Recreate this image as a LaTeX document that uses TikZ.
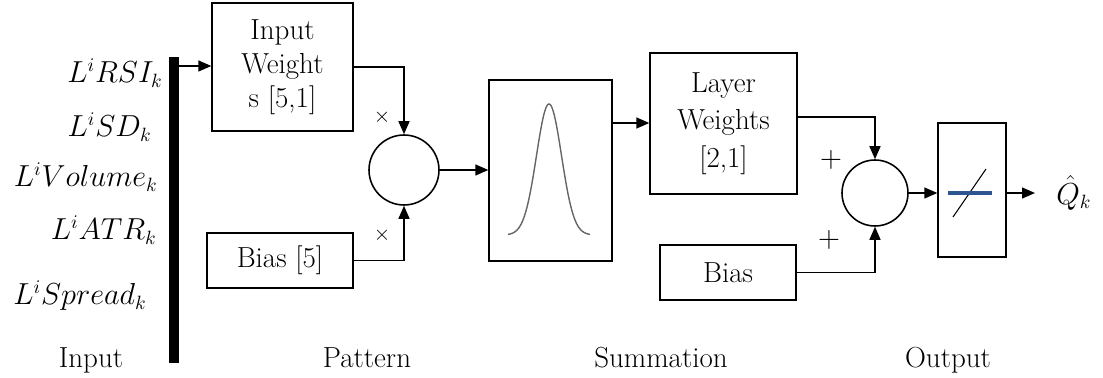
\documentclass[tikz,border=0pt]{standalone}
\usetikzlibrary{arrows.meta,calc}
\definecolor{lineblue}{RGB}{45,85,145}
\begin{document}
\begin{tikzpicture}[x=0.02cm,y=-0.02cm,
  every node/.style={font=\fontsize{16.5}{20}\selectfont},
  blk/.style={draw,line width=0.8pt,align=center,inner sep=0pt},
  sumnode/.style={draw,circle,line width=0.9pt,inner sep=0pt},
  arr/.style={line width=0.8pt,-{Triangle[length=0.26cm,width=0.22cm]}},
  lbl/.style={anchor=base east,inner sep=0pt,font=\fontsize{16}{20}\selectfont},
  captxt/.style={anchor=base,inner sep=0pt}]
\useasboundingbox (0,0) rectangle (1103,378);
% input bar
\node[fill=black,minimum width=0.2cm,minimum height=6.12cm,inner sep=0pt] (bar) at (174,210) {};
% input labels
\node[lbl] (l1) at (163,83) {$L^iRSI_k$};
\node[lbl] (l2) at (152,137) {$L^iSD_k$};
\node[lbl] (l3) at (158,187) {$L^iVolume_k$};
\node[lbl] (l4) at (157,240) {$L^iATR_k$};
\node[lbl] (l5) at (147,305) {$L^iSpread_k$};
% boxes
\node[blk,minimum width=2.82cm,minimum height=2.56cm,font=\fontsize{16.5}{19.5}\selectfont] (iw) at (282.5,67) {Input\\Weight\\s [5,1]};
\node[blk,minimum width=2.92cm,minimum height=1.1cm] (b5) at (280,260.5) {Bias [5]};
\node[sumnode,minimum size=1.4cm] (c1) at (404,170) {};
\node[blk,minimum width=2.46cm,minimum height=3.62cm] (g) at (550.5,170.5) {};
\node[blk,minimum width=2.94cm,minimum height=2.82cm,font=\fontsize{16.5}{21.5}\selectfont] (lw) at (723.5,123.5) {Layer\\Weights\\{}[2,1]};
\node[blk,minimum width=2.72cm,minimum height=1.1cm] (bias) at (728,272.5) {Bias};
\node[sumnode,minimum size=1.32cm] (c2) at (875,193) {};
\node[blk,minimum width=1.36cm,minimum height=2.68cm] (out) at (972,190) {};
\node[anchor=west,inner sep=0pt,inner xsep=0.42cm,font=\fontsize{16}{20}\selectfont] (q) at (1035,193) {$\hat{Q}_k$};
% gaussian curve
\draw[gray!80!black,line width=0.8pt] plot[domain=-41:41,samples=100,smooth] ({549+\x},{235-131*exp(-((\x/12.5)^2)/2)});
% linear transfer symbol
\draw[line width=0.6pt] (953,217) -- (986,169);
\draw[lineblue,line width=1.8pt] (948,193) -- (992,193);
% sign marks
\node[inner sep=0pt,font=\fontsize{12}{12}\selectfont] (m1) at (382,117) {$\times$};
\node[inner sep=0pt,font=\fontsize{12}{12}\selectfont] (m2) at (382,235) {$\times$};
\node[inner sep=0pt,font=\fontsize{17}{17}\selectfont] (p1) at (831,160) {$+$};
\node[inner sep=0pt,font=\fontsize{17}{17}\selectfont] (p2) at (829,240) {$+$};
% connectors
\draw[arr] (bar.east |- 0,66) -- (iw.west |- 0,66);
\draw[arr] (iw.east) -| (c1.north);
\draw[arr] (b5.east) -| (c1.south);
\draw[arr] (c1.east) -- (g.west |- c1.east);
\draw[arr] (g.east |- 0,123) -- (lw.west |- 0,123);
\draw[arr] ([yshift=0.13cm]lw.east) -| (c2.north);
\draw[arr] (bias.east) -| (c2.south);
\draw[arr] (c2.east) -- (out.west |- c2.east);
\draw[arr] (out.east |- c2.east) -- (q.west);
% captions
\node[captxt] (t1) at (91,368) {Input};
\node[captxt] (t2) at (367,368) {Pattern};
\node[captxt] (t3) at (661,368) {Summation};
\node[captxt] (t4) at (948,368) {Output};
\end{tikzpicture}
\end{document}
